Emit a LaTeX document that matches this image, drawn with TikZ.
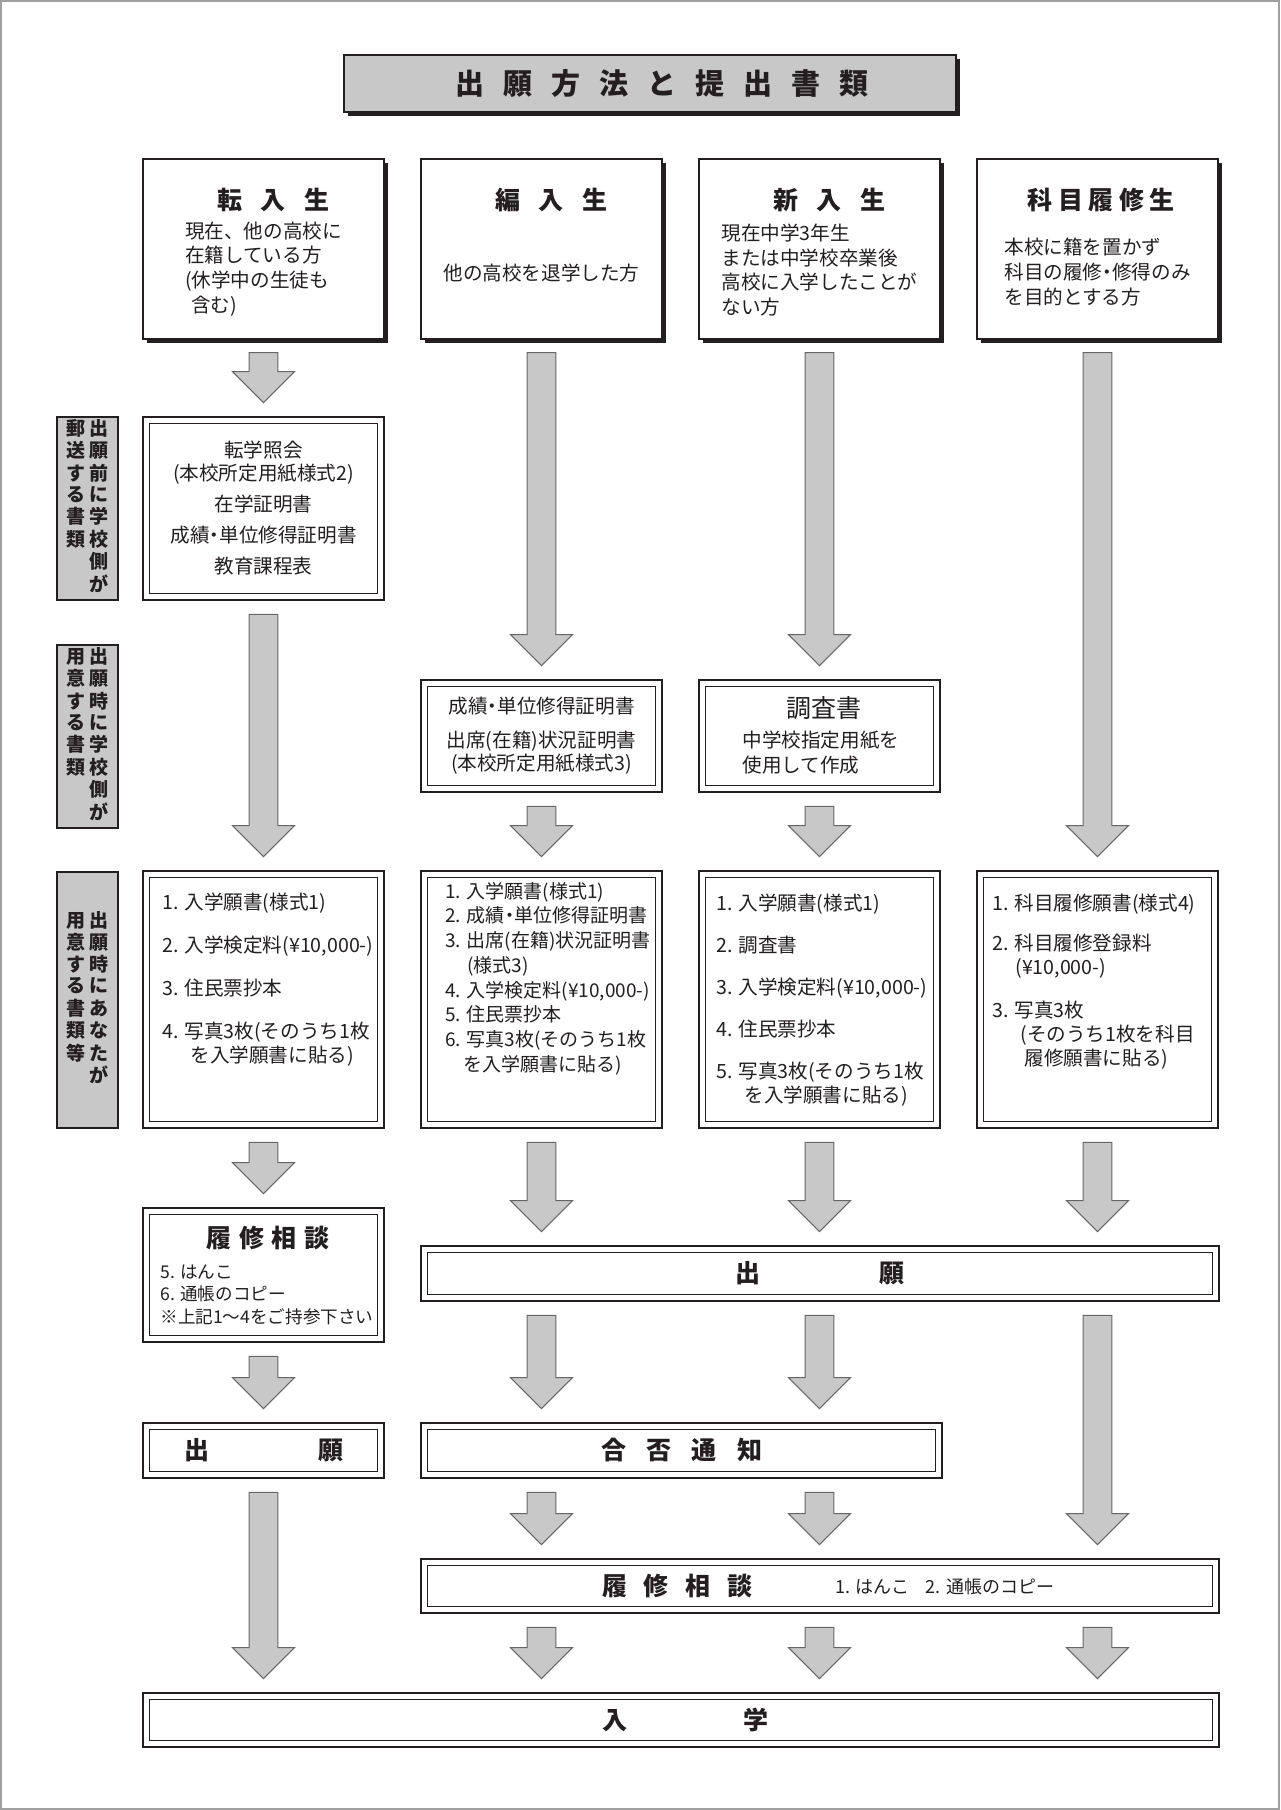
\documentclass[tikz,border=0pt]{standalone}
\usepackage{fontspec}
\setmainfont{Noto Sans CJK JP}
\usetikzlibrary{calc,positioning,shadows}
\definecolor{InkBlk}{HTML}{231F20}
\definecolor{BoxGray}{HTML}{C8C8C8}
\definecolor{ArrLine}{HTML}{666666}
\definecolor{FrameGray}{HTML}{A0A0A0}
% narrow middle dot
\newcommand{\ndot}{\kern-0.25em・\kern-0.25em}
% fat grey flow arrow: column node, from node, to node
\newcommand{\flowarrow}[3]{%
  \filldraw[fatarrow] let \p1=($(#1 |- #2.south)+(0,-6.5pt)$),
    \p2=($(#1 |- #3.north)+(0,6.5pt)$) in
    (\x1-7.2pt,\y1) -- (\x1+7.2pt,\y1) -- (\x1+7.2pt,\y2+15.5pt)
    -- (\x1+15.5pt,\y2+15.5pt) -- (\x1,\y2) -- (\x1-15.5pt,\y2+15.5pt)
    -- (\x1-7.2pt,\y2+15.5pt) -- cycle;}

\begin{document}
\begin{tikzpicture}[x=0.5pt, y=-0.5pt,
  every node/.style={inner sep=0pt, text=InkBlk},
  shadowbox/.style={draw=InkBlk, line width=0.6pt, fill=white,
    drop shadow={shadow xshift=2.2pt, shadow yshift=-2.2pt, fill=InkBlk, opacity=1}},
  dblbox/.style={draw=InkBlk, line width=1.4pt, fill=white,
    path picture={\draw[InkBlk, line width=0.7pt]
      ([shift={(3.2pt,-3.2pt)}]path picture bounding box.north west) rectangle
      ([shift={(-3.2pt,3.2pt)}]path picture bounding box.south east);}},
  sidebox/.style={draw=InkBlk, line width=1pt, fill=BoxGray, minimum width=30.5pt,
    font=\fontsize{9.5pt}{10.2pt}\selectfont\bfseries},
  fatarrow/.style={fill=BoxGray, draw=ArrLine, line width=0.5pt},
  bodytxt/.style={font=\fontsize{9.8pt}{12pt}\selectfont, align=left},
  ctrtxt/.style={font=\fontsize{9.8pt}{11.5pt}\selectfont, align=center},
  headtxt/.style={font=\fontsize{12.5pt}{15pt}\selectfont\bfseries}]

  \useasboundingbox (0,0) rectangle (1280,1810);
  \draw[FrameGray, line width=0.6pt] (1,1) rectangle (1279,1809);

  % title
  \node[shadowbox, fill=BoxGray, minimum width=306pt, minimum height=28.5pt,
    font=\fontsize{14.5pt}{16pt}\selectfont\bfseries] (title) at (650,83.5)
    {\hspace{12pt}\makebox[207pt]{出\hfill 願\hfill 方\hfill 法\hfill と\hfill 提\hfill 出\hfill 書\hfill 類}};

  % column heads
  \node[shadowbox, minimum width=120.5pt, minimum height=90pt] (hA) at (263.5,249) {};
  \node[headtxt] (hAt) at (273,200) {\makebox[56pt]{転\hfill 入\hfill 生}};
  \node[bodytxt, font=\fontsize{9.8pt}{12.4pt}\selectfont] (hAb) at (263.5,269)
    {現在、他の高校に\\在籍している方\\(休学中の生徒も\\\hspace{3pt}含む)};

  \node[shadowbox, minimum width=120.5pt, minimum height=90pt] (hB) at (541.5,249) {};
  \node[headtxt] (hBt) at (551,200) {\makebox[56pt]{編\hfill 入\hfill 生}};
  \node[bodytxt] (hBb) at (541.5,273.5) {他の高校を退学した方};

  \node[shadowbox, minimum width=120.5pt, minimum height=90pt] (hC) at (819.5,249) {};
  \node[headtxt] (hCt) at (829,200) {\makebox[56pt]{新\hfill 入\hfill 生}};
  \node[bodytxt, font=\fontsize{9.8pt}{12.4pt}\selectfont] (hCb) at (819.5,270)
    {現在中学3年生\\または中学校卒業後\\高校に入学したことが\\ない方};

  \node[shadowbox, minimum width=120.5pt, minimum height=90pt] (hD) at (1097.5,249) {};
  \node[headtxt] (hDt) at (1101,200) {\makebox[73.5pt]{科\hfill 目\hfill 履\hfill 修\hfill 生}};
  \node[bodytxt, font=\fontsize{9.8pt}{12.4pt}\selectfont] (hDb) at (1097.5,272)
    {本校に籍を置かず\\科目の履修\ndot 修得のみ\\を目的とする方};

  % side labels
  \node[sidebox, minimum height=91.5pt] (lab1) at (87.5,508.5)
    {\begin{tabular}{@{}c@{\hspace{2pt}}c@{}}郵&出\\送&願\\す&前\\る&に\\書&学\\類&校\\&側\\&が\end{tabular}};
  \node[sidebox, minimum height=91.5pt] (lab2) at (87.5,736.5)
    {\begin{tabular}{@{}c@{\hspace{2pt}}c@{}}用&出\\意&願\\す&時\\る&に\\書&学\\類&校\\&側\\&が\end{tabular}};
  \node[sidebox, minimum height=128pt] (lab3) at (87.5,1000)
    {\begin{tabular}{@{}c@{\hspace{2pt}}c@{}}用&出\\意&願\\す&時\\る&に\\書&あ\\類&な\\等&た\\&が\end{tabular}};

  % documents sent / prepared by the school
  \node[dblbox, ctrtxt, minimum width=120.5pt, minimum height=91.5pt] (pre) at (263.5,508.5)
    {転学照会\\(本校所定用紙様式2)\\[4pt]在学証明書\\[4pt]成績\ndot 単位修得証明書\\[4pt]教育課程表};
  \node[dblbox, ctrtxt, minimum width=120.5pt, minimum height=56pt] (docB) at (541.5,736)
    {成績\ndot 単位修得証明書\\[5.5pt]出席(在籍)状況証明書\\(本校所定用紙様式3)};
  \node[dblbox, minimum width=120.5pt, minimum height=56pt] (docC) at (819.5,736) {};
  \node[font=\fontsize{12.5pt}{14pt}\selectfont] (docCt) at (824,708) {調査書};
  \node[bodytxt, font=\fontsize{9.8pt}{12.5pt}\selectfont, anchor=west] (docCb) at (742,752.5)
    {中学校指定用紙を\\使用して作成};

  % documents prepared by the applicant
  \node[dblbox, minimum width=120.5pt, minimum height=128.5pt] (listA) at (263.5,999.5) {};
  \node[bodytxt, anchor=west] (listAt) at (162,980)
    {1. 入学願書(様式1)\\[9.5pt]2. 入学検定料(¥10,000-)\\[9.5pt]3. 住民票抄本\\[9.5pt]4. 写真3枚(そのうち1枚\\\hspace{14pt}を入学願書に貼る)};
  \node[dblbox, minimum width=120.5pt, minimum height=128.5pt] (listB) at (541.5,999.5) {};
  \node[bodytxt, font=\fontsize{9.5pt}{12.35pt}\selectfont, anchor=west] (listBt) at (445,978.5)
    {1. 入学願書(様式1)\\2. 成績\ndot 単位修得証明書\\3. 出席(在籍)状況証明書\\\hspace{11pt}(様式3)\\4. 入学検定料(¥10,000-)\\5. 住民票抄本\\6. 写真3枚(そのうち1枚\\\hspace{9pt}を入学願書に貼る)};
  \node[dblbox, minimum width=120.5pt, minimum height=128.5pt] (listC) at (819.5,999.5) {};
  \node[bodytxt, anchor=west] (listCt) at (716,1000)
    {1. 入学願書(様式1)\\[9pt]2. 調査書\\[9pt]3. 入学検定料(¥10,000-)\\[9pt]4. 住民票抄本\\[9pt]5. 写真3枚(そのうち1枚\\\hspace{14pt}を入学願書に貼る)};
  \node[dblbox, minimum width=120.5pt, minimum height=128.5pt] (listD) at (1097.5,999.5) {};
  \node[bodytxt, anchor=west] (listDt) at (992,981.5)
    {1. 科目履修願書(様式4)\\[8pt]2. 科目履修登録料\\\hspace{11.5pt}(¥10,000-)\\[9.5pt]3. 写真3枚\\\hspace{14pt}(そのうち1枚を科目\\\hspace{16pt}履修願書に貼る)};

  % consultation, application, result
  \node[dblbox, minimum width=120.5pt, minimum height=67pt] (rsA) at (263.5,1275) {};
  \node[headtxt] (rsAt) at (268,1238) {\makebox[61.5pt]{履\hfill 修\hfill 相\hfill 談}};
  \node[bodytxt, font=\fontsize{8.8pt}{11.25pt}\selectfont, anchor=west] (rsAb) at (160,1294.5)
    {5. はんこ\\6. 通帳のコピー\\※上記1〜4をご持参下さい};

  \node[dblbox, headtxt, minimum width=399pt, minimum height=27.5pt] (apW) at (820,1273.5)
    {\makebox[84.5pt]{出\hfill 願}};
  \node[dblbox, headtxt, minimum width=120.5pt, minimum height=27.5pt] (apA) at (263.5,1450.5)
    {\makebox[79.5pt]{出\hfill 願}};
  \node[dblbox, headtxt, minimum width=260.5pt, minimum height=27.5pt] (pass) at (681.5,1450.5)
    {\makebox[80.5pt]{合\hfill 否\hfill 通\hfill 知}};

  \node[dblbox, minimum width=399pt, minimum height=27pt] (rsW) at (820,1586) {};
  \node[headtxt] (rsWt) at (677,1586) {\makebox[75pt]{履\hfill 修\hfill 相\hfill 談}};
  \node[font=\fontsize{9pt}{10pt}\selectfont, anchor=west] (rsWb) at (835,1587)
    {1. はんこ\hspace{8pt}2. 通帳のコピー};

  \node[dblbox, headtxt, minimum width=538pt, minimum height=27pt] (enr) at (681,1720)
    {\hspace{4pt}\makebox[83pt]{入\hfill 学}};

  % flow arrows
  \foreach \c/\a/\b in {hA/hA/pre, hA/pre/listA, hB/hB/docB, hC/hC/docC, hD/hD/listD,
      hB/docB/listB, hC/docC/listC, hA/listA/rsA, hB/listB/apW, hC/listC/apW,
      hD/listD/apW, hA/rsA/apA, hB/apW/pass, hC/apW/pass, hD/apW/rsW,
      hA/apA/enr, hB/pass/rsW, hC/pass/rsW, hB/rsW/enr, hC/rsW/enr, hD/rsW/enr}
    {\flowarrow{\c}{\a}{\b}}
\end{tikzpicture}
\end{document}
